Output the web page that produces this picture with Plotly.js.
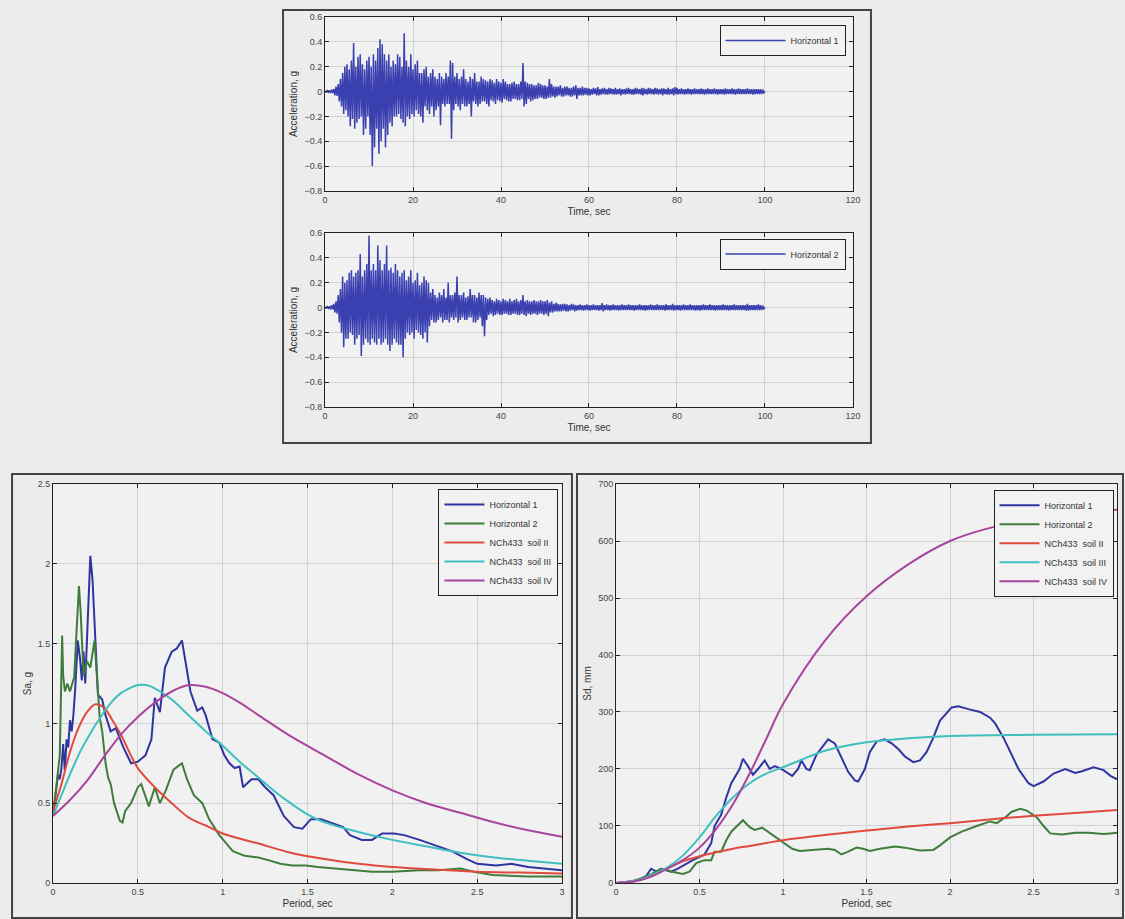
<!DOCTYPE html>
<html>
<head>
<meta charset="utf-8">
<script src="https://cdn.plot.ly/plotly-3.0.1.min.js"></script>
<style>html,body{margin:0;padding:0;background:#ececec;}#chart{width:1125px;height:919px;}</style>
</head>
<body>
<div id="chart"></div>
<script>
const timeStep = 0.25;
const accH1 = [
0.005,-0.005,0.008,-0.006,0.01,-0.012,0.015,-0.012,0.02,-0.03,0.04,-0.035,0.06,-0.08,0.1,-0.12,0.15,-0.18,0.2,-0.15,
0.22,-0.2,0.18,-0.28,0.25,-0.22,0.39,-0.3,0.2,-0.25,0.28,-0.22,0.3,-0.2,0.22,-0.35,0.18,-0.3,0.25,-0.2,
0.28,-0.35,0.2,-0.6,0.3,-0.45,0.25,-0.3,0.35,-0.5,0.42,-0.4,0.38,-0.3,0.3,-0.45,0.25,-0.35,0.3,-0.25,
0.2,-0.28,0.25,-0.2,0.22,-0.2,0.3,-0.18,0.28,-0.22,0.2,-0.25,0.47,-0.28,0.25,-0.2,0.2,-0.22,0.3,-0.18,
0.18,-0.2,0.22,-0.15,0.25,-0.18,0.15,-0.2,0.15,-0.25,0.18,-0.12,0.2,-0.15,0.12,-0.18,0.15,-0.12,0.18,-0.2,
0.12,-0.15,0.1,-0.12,0.15,-0.27,0.12,-0.1,0.1,-0.12,0.15,-0.1,0.12,-0.1,0.25,-0.38,0.23,-0.15,0.12,-0.1,
0.15,-0.12,0.1,-0.15,0.12,-0.1,0.18,-0.12,0.1,-0.12,0.08,-0.1,0.12,-0.2,0.1,-0.08,0.15,-0.1,0.08,-0.12,
0.08,-0.1,0.12,-0.08,0.1,-0.08,0.09,-0.1,0.08,-0.12,0.1,-0.07,0.09,-0.08,0.07,-0.1,0.1,-0.07,0.08,-0.08,
0.07,-0.09,0.1,-0.06,0.08,-0.07,0.06,-0.08,0.06,-0.08,0.07,-0.06,0.08,-0.06,0.06,-0.07,0.06,-0.07,0.08,-0.06,
0.23,-0.12,0.08,-0.1,0.07,-0.06,0.06,-0.08,0.06,-0.07,0.05,-0.06,0.05,-0.06,0.07,-0.05,0.06,-0.05,0.05,-0.06,
0.05,-0.06,0.04,-0.05,0.1,-0.05,0.06,-0.04,0.04,-0.05,0.04,-0.04,0.04,-0.03,0.05,-0.04,0.03,-0.04,0.04,-0.03,
0.04,-0.03,0.03,-0.04,0.03,-0.04,0.04,-0.03,0.05,-0.06,0.03,-0.03,0.03,-0.03,0.04,-0.03,0.03,-0.025,0.03,-0.03,
0.025,-0.03,0.02,-0.025,0.03,-0.02,0.025,-0.03,0.035,-0.03,0.02,-0.025,0.025,-0.02,0.03,-0.025,0.02,-0.025,0.03,-0.02,
0.025,-0.02,0.02,-0.025,0.03,-0.025,0.02,-0.02,0.025,-0.03,0.02,-0.02,0.02,-0.025,0.025,-0.02,0.03,-0.02,0.02,-0.025,
0.02,-0.025,0.03,-0.02,0.025,-0.02,0.02,-0.025,0.03,-0.03,0.025,-0.02,0.02,-0.025,0.03,-0.02,0.025,-0.02,0.02,-0.025,
0.03,-0.02,0.025,-0.025,0.02,-0.02,0.025,-0.03,0.025,-0.02,0.02,-0.025,0.03,-0.025,0.02,-0.02,0.025,-0.03,0.035,-0.02,
0.03,-0.025,0.02,-0.02,0.025,-0.02,0.02,-0.025,0.02,-0.02,0.025,-0.02,0.02,-0.025,0.02,-0.02,0.025,-0.02,0.02,-0.02,
0.02,-0.02,0.025,-0.02,0.02,-0.025,0.02,-0.02,0.025,-0.02,0.02,-0.02,0.02,-0.02,0.025,-0.02,0.02,-0.025,0.02,-0.02,
0.02,-0.02,0.02,-0.025,0.025,-0.02,0.02,-0.02,0.02,-0.02,0.025,-0.02,0.02,-0.025,0.02,-0.02,0.025,-0.02,0.02,-0.02,
0.02,-0.02,0.02,-0.02,0.025,-0.02,0.02,-0.02,0.02,-0.025,0.02,-0.02,0.02,-0.02,0.02,-0.02,0.02,-0.02,0.015,-0.01,
0
];
const accH2 = [
0.005,-0.005,0.008,-0.006,0.01,-0.015,0.02,-0.015,0.03,-0.04,0.05,-0.05,0.1,-0.12,0.15,-0.2,0.25,-0.32,0.2,-0.25,
0.22,-0.25,0.28,-0.2,0.3,-0.22,0.25,-0.3,0.28,-0.25,0.3,-0.22,0.43,-0.39,0.25,-0.3,0.3,-0.25,0.35,-0.28,
0.58,-0.3,0.3,-0.25,0.35,-0.28,0.3,-0.3,0.5,-0.25,0.38,-0.3,0.3,-0.28,0.35,-0.25,0.5,-0.3,0.3,-0.35,
0.32,-0.3,0.28,-0.25,0.35,-0.28,0.3,-0.3,0.25,-0.3,0.28,-0.4,0.3,-0.25,0.22,-0.2,0.25,-0.22,0.3,-0.2,
0.2,-0.25,0.22,-0.18,0.28,-0.2,0.18,-0.22,0.2,-0.25,0.25,-0.2,0.22,-0.28,0.2,-0.15,0.12,-0.1,0.15,-0.12,
0.1,-0.12,0.08,-0.1,0.12,-0.08,0.1,-0.12,0.15,-0.1,0.08,-0.1,0.2,-0.12,0.1,-0.08,0.1,-0.1,0.12,-0.08,
0.25,-0.12,0.1,-0.1,0.1,-0.08,0.12,-0.1,0.08,-0.1,0.09,-0.08,0.15,-0.08,0.1,-0.12,0.1,-0.12,0.08,-0.1,
0.12,-0.08,0.1,-0.15,0.1,-0.23,0.08,-0.1,0.07,-0.06,0.08,-0.05,0.06,-0.07,0.05,-0.06,0.07,-0.05,0.06,-0.06,
0.05,-0.06,0.07,-0.05,0.06,-0.05,0.05,-0.06,0.07,-0.06,0.05,-0.05,0.06,-0.05,0.07,-0.06,0.05,-0.06,0.06,-0.05,
0.1,-0.06,0.05,-0.07,0.06,-0.05,0.05,-0.06,0.05,-0.05,0.06,-0.05,0.05,-0.06,0.05,-0.05,0.06,-0.05,0.05,-0.06,
0.05,-0.05,0.06,-0.07,0.04,-0.04,0.05,-0.04,0.03,-0.03,0.04,-0.03,0.03,-0.03,0.025,-0.03,0.03,-0.025,0.03,-0.03,
0.025,-0.03,0.02,-0.025,0.03,-0.02,0.025,-0.03,0.02,-0.025,0.02,-0.02,0.025,-0.02,0.02,-0.025,0.02,-0.02,0.025,-0.02,
0.02,-0.025,0.02,-0.02,0.025,-0.02,0.02,-0.02,0.02,-0.025,0.02,-0.02,0.035,-0.03,0.02,-0.02,0.025,-0.02,0.02,-0.025,
0.02,-0.02,0.025,-0.02,0.02,-0.02,0.02,-0.025,0.02,-0.02,0.025,-0.02,0.02,-0.02,0.02,-0.02,0.025,-0.02,0.02,-0.02,
0.02,-0.025,0.02,-0.02,0.02,-0.02,0.025,-0.02,0.02,-0.02,0.02,-0.025,0.02,-0.02,0.02,-0.02,0.025,-0.02,0.02,-0.02,
0.02,-0.02,0.025,-0.02,0.02,-0.02,0.02,-0.02,0.02,-0.025,0.025,-0.02,0.02,-0.02,0.02,-0.02,0.03,-0.025,0.02,-0.02,
0.02,-0.02,0.02,-0.025,0.02,-0.02,0.025,-0.02,0.02,-0.02,0.02,-0.02,0.025,-0.02,0.02,-0.02,0.02,-0.025,0.02,-0.02,
0.02,-0.025,0.02,-0.02,0.025,-0.02,0.02,-0.02,0.02,-0.02,0.025,-0.02,0.02,-0.02,0.02,-0.025,0.02,-0.02,0.02,-0.02,
0.02,-0.02,0.025,-0.02,0.02,-0.02,0.02,-0.025,0.02,-0.02,0.02,-0.02,0.025,-0.02,0.02,-0.02,0.02,-0.02,0.02,-0.02,
0.02,-0.02,0.02,-0.025,0.03,-0.025,0.02,-0.02,0.02,-0.02,0.02,-0.02,0.02,-0.02,0.025,-0.02,0.02,-0.02,0.015,-0.01,
0
];

// ---------- Acceleration spectra Sa (g) ----------
const saH1T = [0,0.02,0.03,0.04,0.05,0.06,0.07,0.08,0.09,0.1,0.11,0.12,0.13,0.146,0.16,0.17,0.18,0.19,0.2,0.22,0.233,0.25,0.265,0.29,0.31,0.34,0.37,0.415,0.46,0.5,0.545,0.58,0.6,0.63,0.66,0.7,0.73,0.76,0.78,0.81,0.85,0.88,0.9,0.94,0.98,1.01,1.04,1.07,1.1,1.12,1.17,1.21,1.25,1.3,1.36,1.42,1.47,1.52,1.58,1.63,1.71,1.75,1.82,1.88,1.94,2.01,2.07,2.16,2.27,2.35,2.44,2.5,2.61,2.7,2.8,2.91,3.0];
const saH1 = [0.42,0.6,0.68,0.65,0.72,0.87,0.7,0.9,0.85,1.02,0.95,1.05,1.2,1.52,1.4,1.27,1.45,1.25,1.5,2.05,1.9,1.5,1.18,1.15,1.05,0.95,0.97,0.85,0.75,0.76,0.8,0.9,1.16,1.07,1.35,1.45,1.47,1.52,1.4,1.2,1.08,1.1,1.05,0.9,0.88,0.8,0.75,0.72,0.73,0.6,0.65,0.65,0.6,0.55,0.42,0.35,0.34,0.4,0.4,0.38,0.35,0.3,0.27,0.27,0.31,0.31,0.3,0.27,0.23,0.2,0.15,0.12,0.11,0.12,0.1,0.09,0.08];
const saH2T = [0,0.02,0.04,0.054,0.06,0.07,0.085,0.1,0.125,0.14,0.153,0.163,0.18,0.2,0.22,0.245,0.26,0.275,0.29,0.31,0.325,0.34,0.36,0.394,0.41,0.425,0.46,0.5,0.52,0.555,0.565,0.6,0.63,0.665,0.71,0.76,0.79,0.83,0.88,0.92,0.98,1.02,1.06,1.13,1.21,1.28,1.34,1.41,1.49,1.56,1.67,1.77,1.88,2.0,2.16,2.27,2.4,2.48,2.59,2.8,3.0];
const saH2 = [0.42,0.6,0.8,1.55,1.3,1.2,1.25,1.2,1.29,1.6,1.86,1.7,1.3,1.39,1.35,1.52,1.3,1.04,0.95,0.75,0.66,0.62,0.5,0.39,0.38,0.45,0.5,0.6,0.62,0.5,0.48,0.6,0.5,0.58,0.71,0.75,0.65,0.55,0.5,0.4,0.3,0.25,0.2,0.17,0.16,0.14,0.12,0.11,0.11,0.1,0.09,0.08,0.07,0.07,0.08,0.08,0.09,0.07,0.05,0.04,0.04];
const saSoil2T = [0,0.05,0.1,0.15,0.2,0.25,0.3,0.35,0.4,0.45,0.5,0.6,0.7,0.8,0.9,1.0,1.2,1.4,1.6,1.8,2.0,2.25,2.5,2.75,3.0];
const saSoil2 = [0.45,0.62,0.82,0.97,1.07,1.12,1.1,1.02,0.93,0.82,0.72,0.6,0.5,0.41,0.36,0.31,0.25,0.19,0.15,0.12,0.1,0.085,0.07,0.065,0.06];
const saSoil3T = [0,0.05,0.1,0.15,0.2,0.25,0.3,0.35,0.4,0.45,0.5,0.55,0.6,0.7,0.8,0.9,1.0,1.1,1.2,1.3,1.4,1.5,1.6,1.8,2.0,2.2,2.4,2.6,2.8,3.0];
const saSoil3 = [0.42,0.55,0.68,0.8,0.9,0.99,1.07,1.14,1.19,1.22,1.24,1.24,1.22,1.15,1.05,0.95,0.86,0.76,0.67,0.58,0.5,0.43,0.38,0.32,0.27,0.23,0.19,0.16,0.14,0.12];
const saSoil4T = [0,0.1,0.2,0.3,0.4,0.5,0.6,0.7,0.8,0.9,1.0,1.1,1.2,1.4,1.6,1.8,2.0,2.2,2.4,2.6,2.8,3.0];
const saSoil4 = [0.42,0.52,0.64,0.79,0.93,1.04,1.13,1.2,1.24,1.23,1.19,1.13,1.06,0.92,0.8,0.68,0.58,0.5,0.44,0.38,0.33,0.29];

// ---------- Displacement spectra Sd (mm) ----------
const sdH1T = [0,0.05,0.1,0.15,0.18,0.21,0.24,0.27,0.3,0.33,0.37,0.4,0.46,0.53,0.57,0.59,0.63,0.66,0.69,0.74,0.76,0.79,0.82,0.85,0.89,0.92,0.95,0.99,1.03,1.055,1.09,1.11,1.14,1.16,1.2,1.24,1.27,1.31,1.35,1.39,1.43,1.45,1.49,1.52,1.56,1.61,1.65,1.69,1.73,1.78,1.82,1.86,1.9,1.94,2.01,2.05,2.11,2.18,2.24,2.27,2.32,2.37,2.41,2.47,2.5,2.56,2.62,2.69,2.75,2.79,2.86,2.92,2.96,3.0];
const sdH1 = [0,1,3,8,12,25,20,25,22,20,25,30,40,50,70,100,120,150,175,200,218,205,190,200,215,200,205,200,192,188,200,215,200,198,225,240,252,245,220,195,180,178,200,230,248,252,245,235,222,212,215,230,255,285,308,310,305,300,290,280,255,225,200,175,170,178,192,200,193,196,203,198,188,182];
const sdH2T = [0,0.05,0.1,0.15,0.21,0.27,0.33,0.4,0.44,0.48,0.53,0.57,0.59,0.63,0.66,0.69,0.74,0.76,0.8,0.83,0.875,0.92,0.96,1.0,1.055,1.1,1.18,1.27,1.31,1.35,1.39,1.44,1.48,1.52,1.58,1.67,1.73,1.82,1.9,1.94,2.0,2.07,2.16,2.24,2.28,2.33,2.37,2.42,2.46,2.52,2.56,2.6,2.67,2.75,2.83,2.92,2.96,3.0];
const sdH2 = [0,1,3,8,15,25,20,16,20,35,40,40,55,55,75,90,105,110,98,93,97,88,80,72,60,56,58,60,58,50,55,62,60,56,60,64,62,57,58,66,80,90,100,108,105,115,125,130,127,115,100,87,85,88,88,86,87,88];
const sdSoil2T = [0,0.1,0.2,0.3,0.4,0.5,0.6,0.7,0.8,0.9,1.0,1.25,1.5,1.75,2.0,2.25,2.5,2.75,3.0];
const sdSoil2 = [0,3,12,25,38,47,54,60,65,70,75,84,92,99,105,112,118,123,128];
const sdSoil3T = [0,0.1,0.2,0.3,0.4,0.5,0.6,0.7,0.8,0.9,1.0,1.1,1.25,1.5,1.75,2.0,2.5,3.0];
const sdSoil3 = [0,3,12,26,48,80,118,150,175,192,203,215,232,247,254,258,260,261];
const sdSoil4T = [0,0.1,0.2,0.3,0.4,0.5,0.6,0.7,0.8,0.9,1.0,1.25,1.5,1.75,2.0,2.2,2.5,2.75,3.0];
const sdSoil4 = [0,2,10,24,40,62,95,138,192,253,314,425,503,559,600,620,640,650,655];

const seriesNames = ['Horizontal 1','Horizontal 2','NCh433 \u00a0soil II','NCh433 \u00a0soil III','NCh433 \u00a0soil IV'];

// ---------- styles ----------
const C = {h1:'#2f35a0', h2:'#3f7d3c', s2:'#e04a3c', s3:'#3fbfbf', s4:'#a8449c', acc:'#3a40b0'};
const FONT = 'Liberation Sans, Arial, sans-serif';
const tA = accH1.map((_, i) => i * timeStep);
const tB = accH2.map((_, i) => i * timeStep);

const traces = [
  {x:tA, y:accH1, type:'scatter', mode:'lines', name:'Horizontal 1', xaxis:'x', yaxis:'y', legend:'legend',
   line:{color:C.acc, width:1.5, simplify:false}},
  {x:tB, y:accH2, type:'scatter', mode:'lines', name:'Horizontal 2', xaxis:'x2', yaxis:'y2', legend:'legend2',
   line:{color:C.acc, width:1.5, simplify:false}},
];
const spec = [
  [saH1T, saH1, sdH1T, sdH1, C.h1, 2, 'linear'],
  [saH2T, saH2, sdH2T, sdH2, C.h2, 2, 'linear'],
  [saSoil2T, saSoil2, sdSoil2T, sdSoil2, C.s2, 2, 'spline'],
  [saSoil3T, saSoil3, sdSoil3T, sdSoil3, C.s3, 2, 'spline'],
  [saSoil4T, saSoil4, sdSoil4T, sdSoil4, C.s4, 2, 'spline'],
];
spec.forEach((s, i) => {
  traces.push({x:s[0], y:s[1], type:'scatter', mode:'lines', name:seriesNames[i], xaxis:'x3', yaxis:'y3',
    legend:'legend3', line:{color:s[4], width:s[5], shape:s[6]}});
});
spec.forEach((s, i) => {
  traces.push({x:s[2], y:s[3], type:'scatter', mode:'lines', name:seriesNames[i], xaxis:'x4', yaxis:'y4',
    legend:'legend4', line:{color:s[4], width:s[5], shape:s[6]}});
});

function ax(extra) {
  return Object.assign({
    showline:true, linecolor:'#222', linewidth:1, mirror:'ticks',
    ticks:'inside', ticklen:4, tickcolor:'#222', tickwidth:1,
    showgrid:true, gridcolor:'#d2d2d2', gridwidth:1, zeroline:false,
    tickfont:{family:FONT, size:9, color:'#444'}, automargin:false, fixedrange:true
  }, extra);
}
function ttl(text) { return {text:text, font:{family:FONT, size:10, color:'#333'}, standoff:4}; }
function leg(x, y, extra) {
  return Object.assign({x:x, y:y, xanchor:'right', yanchor:'top', xref:'paper', yref:'paper',
    bgcolor:'#f2f2f2', bordercolor:'#222', borderwidth:1,
    font:{family:FONT, size:9, color:'#333'}, itemwidth:40, tracegroupgap:0}, extra || {});
}

const layout = {
  width:1125, height:919,
  margin:{l:0, r:0, t:0, b:0},
  paper_bgcolor:'#ececec', plot_bgcolor:'#f1f1f1',
  font:{family:FONT, size:9, color:'#444'},
  showlegend:true,
  xaxis: ax({domain:[0.2889,0.7582], anchor:'y', range:[0,120], dtick:20, title:ttl('Time, sec')}),
  yaxis: ax({domain:[0.7922,0.9815], anchor:'x', range:[-0.8,0.6], dtick:0.2, title:ttl('Acceleration, g')}),
  xaxis2: ax({domain:[0.2889,0.7582], anchor:'y2', range:[0,120], dtick:20, title:ttl('Time, sec')}),
  yaxis2: ax({domain:[0.5571,0.7465], anchor:'x2', range:[-0.8,0.6], dtick:0.2, title:ttl('Acceleration, g')}),
  xaxis3: ax({domain:[0.0471,0.4996], anchor:'y3', range:[0,3], dtick:0.5, title:ttl('Period, sec')}),
  yaxis3: ax({domain:[0.0392,0.4733], anchor:'x3', range:[0,2.5], dtick:0.5, title:ttl('Sa, g')}),
  xaxis4: ax({domain:[0.5476,0.9929], anchor:'y4', range:[0,3], dtick:0.5, title:ttl('Period, sec')}),
  yaxis4: ax({domain:[0.0392,0.4733], anchor:'x4', range:[0,700], dtick:100, title:ttl('Sd, mm')}),
  legend: leg(0.7516, 0.9728, {itemwidth:60}),
  legend2: leg(0.7516, 0.7404, {itemwidth:60}),
  legend3: leg(0.4964, 0.4679),
  legend4: leg(0.9898, 0.4672),
  shapes: [
    {type:'rect', xref:'paper', yref:'paper', x0:0.2516, x1:0.7742, y0:0.5180, y1:0.9891, line:{color:'#444', width:2}},
    {type:'rect', xref:'paper', yref:'paper', x0:0.0107, x1:0.5084, y0:0.0011, y1:0.4842, line:{color:'#444', width:2}},
    {type:'rect', xref:'paper', yref:'paper', x0:0.5129, x1:0.9982, y0:0.0011, y1:0.4842, line:{color:'#444', width:2}}
  ]
};

Plotly.newPlot('chart', traces, layout, {displayModeBar:false, staticPlot:true});
</script>
</body>
</html>
